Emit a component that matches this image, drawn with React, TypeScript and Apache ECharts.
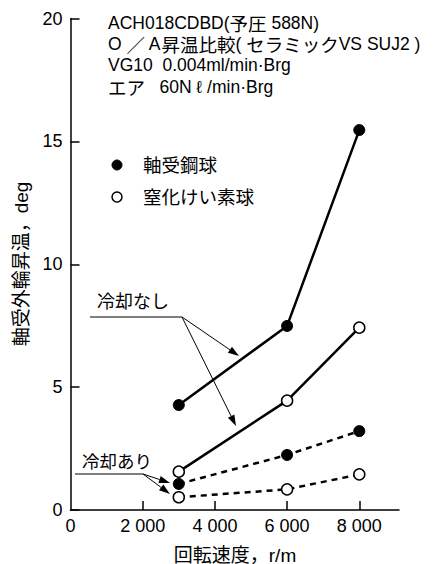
import React, { useEffect, useRef } from "react";
import * as echarts from "echarts";

const speeds = [3000, 6000, 8000];
const steelNoCooling = [4.27, 7.49, 15.46];
const ceramicNoCooling = [1.56, 4.45, 7.42];
const steelCooling = [1.06, 2.24, 3.21];
const ceramicCooling = [0.52, 0.84, 1.45];

const xLabelValues = [0, 2000, 4000, 6000, 8000];
const xTickValues = [2000, 4000, 6000, 8000];

const titleLines = [
  "ACH018CDBD(予圧 588N)",
  "O ／ A昇温比較( セラミックVS SUJ2 )",
  "VG10  0.004ml/min·Brg",
  "エア   60N ℓ /min·Brg",
];
const legendSteel = "軸受鋼球";
const legendCeramic = "窒化けい素球";
const noteNoCooling = "冷却なし";
const noteCooling = "冷却あり";
const xName = "回転速度，r/m";
const yName = "軸受外輪昇温，deg";

const LATIN = '"Liberation Sans", Arial, sans-serif';
const CJK = '"Noto Sans CJK JP", "Liberation Sans", sans-serif';
const FONT = '"Liberation Sans", Arial, "Noto Sans CJK JP", sans-serif';

function toPairs(xs: number[], ys: number[]) {
  return xs.map((x, i) => [x, ys[i]]);
}

function isCjk(ch: string) {
  const c = ch.charCodeAt(0);
  return (c >= 0x3000 && c <= 0x9fff) || (c >= 0xff00 && c <= 0xffef);
}

function richText(s: string) {
  let out = "";
  let cur = "";
  let curCjk: boolean | null = null;
  for (const ch of s) {
    const k = isCjk(ch);
    if (curCjk !== null && k !== curCjk) {
      out += `{${curCjk ? "j" : "l"}|${cur}}`;
      cur = "";
    }
    curCjk = k;
    cur += ch;
  }
  if (cur) out += `{${curCjk ? "j" : "l"}|${cur}}`;
  return out;
}

function arrow(x1: number, y1: number, x2: number, y2: number) {
  const dx = x2 - x1;
  const dy = y2 - y1;
  const len = Math.sqrt(dx * dx + dy * dy);
  const ux = dx / len;
  const uy = dy / len;
  const hl = 11;
  const hw = 3.6;
  const bx = x2 - ux * hl;
  const by = y2 - uy * hl;
  return [
    {
      type: "line",
      shape: { x1, y1, x2: bx, y2: by },
      style: { stroke: "#000", lineWidth: 1 },
    },
    {
      type: "polygon",
      shape: {
        points: [
          [x2, y2],
          [bx - uy * hw, by + ux * hw],
          [bx + uy * hw, by - ux * hw],
        ],
      },
      style: { fill: "#000" },
    },
  ];
}

export default function App() {
  const ref = useRef<HTMLDivElement>(null);
  useEffect(() => {
    if (!ref.current) return;
    const chart = echarts.init(ref.current, null, { renderer: "svg" });
    const filled = { color: "#000", borderColor: "#000", borderWidth: 1 };
    const open = { color: "#fff", borderColor: "#000", borderWidth: 1.5 };
    const solidLine = { color: "#000", width: 2.5, type: "solid" };
    const dashedLine = { color: "#000", width: 2.5, type: [6, 5] };
    const axisCommon = {
      axisLine: { show: true, lineStyle: { color: "#000", width: 1.5 } },
      axisTick: { show: true, inside: true, length: 9, lineStyle: { color: "#000", width: 1.5 } },
      splitLine: { show: false },
    };
    const textStyle = (size: number) => ({ fill: "#000", font: `${size}px ${FONT}` });

    const graphics: any[] = [];
    titleLines.forEach((t, i) => {
      graphics.push({
        type: "text",
        x: 108,
        y: 22.7 + i * 21.3,
        style: {
          text: richText(t),
          fill: "#000",
          verticalAlign: "middle",
          rich: {
            l: { fontSize: 17.5, fontFamily: LATIN, fill: "#000" },
            j: { fontSize: 18.5, fontFamily: CJK, fill: "#000" },
          },
        },
      });
    });
    graphics.push(
      { type: "circle", shape: { cx: 117, cy: 165, r: 5 }, style: { fill: "#000", stroke: "#000", lineWidth: 1 } },
      { type: "text", x: 143, y: 165, style: { text: legendSteel, ...textStyle(18.5), verticalAlign: "middle" } },
      { type: "circle", shape: { cx: 117, cy: 197, r: 5 }, style: { fill: "#fff", stroke: "#000", lineWidth: 1.5 } },
      { type: "text", x: 143, y: 197, style: { text: legendCeramic, ...textStyle(18.5), verticalAlign: "middle" } },
      { type: "text", x: 97, y: 302, style: { text: noteNoCooling, ...textStyle(18), verticalAlign: "middle" } },
      { type: "line", shape: { x1: 90, y1: 317, x2: 182, y2: 317 }, style: { stroke: "#000", lineWidth: 1 } },
      ...arrow(182, 317, 239, 356),
      ...arrow(182, 317, 236, 426),
      { type: "text", x: 82, y: 462, style: { text: noteCooling, ...textStyle(17.5), verticalAlign: "middle" } },
      { type: "line", shape: { x1: 75, y1: 474, x2: 143, y2: 474 }, style: { stroke: "#000", lineWidth: 1 } },
      ...arrow(143, 474, 170, 483),
      ...arrow(143, 474, 170, 494),
      { type: "text", x: 235, y: 555, style: { text: xName, ...textStyle(19), align: "center", verticalAlign: "middle" } },
      {
        type: "text",
        x: 21,
        y: 264,
        rotation: Math.PI / 2,
        style: { text: yName, ...textStyle(19), align: "center", verticalAlign: "middle" },
      }
    );

    chart.setOption({
      animation: false,
      backgroundColor: "#fff",
      grid: { left: 70.5, right: 37, top: 18.5, bottom: 54, containLabel: false },
      xAxis: {
        type: "value",
        min: 0,
        max: 9100,
        interval: 2000,
        ...axisCommon,
        axisTick: { ...axisCommon.axisTick, customValues: xTickValues },
        axisLabel: {
          customValues: xLabelValues,
          color: "#000",
          fontSize: 18,
          fontFamily: FONT,
          margin: 7,
          formatter: (v: number) => (v >= 1000 ? `${Math.floor(v / 1000)} ${String(v % 1000).padStart(3, "0")}` : `${v}`),
        },
      },
      yAxis: {
        type: "value",
        min: 0,
        max: 20,
        interval: 5,
        ...axisCommon,
        axisLabel: { color: "#000", fontSize: 18, fontFamily: FONT, margin: 8 },
      },
      series: [
        { type: "line", data: toPairs(speeds, steelNoCooling), symbol: "circle", symbolSize: 11, lineStyle: solidLine, itemStyle: filled, z: 3 },
        { type: "line", data: toPairs(speeds, ceramicNoCooling), symbol: "circle", symbolSize: 11, lineStyle: solidLine, itemStyle: open, z: 3 },
        { type: "line", data: toPairs(speeds, steelCooling), symbol: "circle", symbolSize: 11, lineStyle: dashedLine, itemStyle: filled, z: 3 },
        { type: "line", data: toPairs(speeds, ceramicCooling), symbol: "circle", symbolSize: 11, lineStyle: dashedLine, itemStyle: open, z: 3 },
      ],
      graphic: graphics,
    });
    return () => chart.dispose();
  }, []);
  return (
    <div
      ref={ref}
      style={{ position: "fixed", left: 0, top: 0, width: 436, height: 564, background: "#fff" }}
    />
  );
}
